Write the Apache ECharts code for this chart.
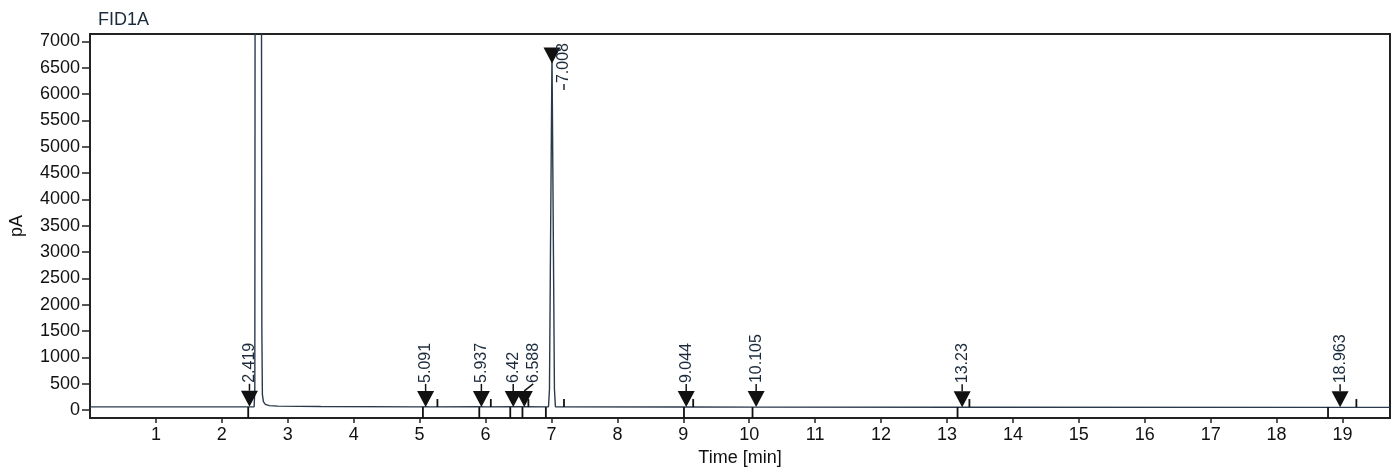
<!DOCTYPE html>
<html>
<head>
<meta charset="utf-8">
<script src="https://cdn.jsdelivr.net/npm/echarts@6/dist/echarts.min.js"></script>
<style>
html,body{margin:0;padding:0;background:#fff;}
#chart{width:1395px;height:472px;}
</style>
</head>
<body>
<div id="chart"></div>
<script>
// ---- data ----
const xTicks = [1,2,3,4,5,6,7,8,9,10,11,12,13,14,15,16,17,18,19];
const yTicks = [0,500,1000,1500,2000,2500,3000,3500,4000,4500,5000,5500,6000,6500,7000];
// chromatogram signal [time min, pA]
const signalTime = [0, 2.45, 2.49, 2.50, 2.505, 2.60, 2.607, 2.615, 2.63, 2.66, 2.72, 2.85, 3.5, 5.0, 5.09, 5.15, 5.93, 6.0, 6.42, 6.58, 6.955, 6.97, 6.985, 7.008, 7.03, 7.045, 7.06, 9.04, 10.1, 13.2, 18.96, 19.72];
const signalPA   = [62, 62, 64, 400, 9000, 9000, 1500, 300, 160, 110, 85, 75, 68, 62, 64, 62, 64, 61, 63, 63, 62, 400, 3000, 6775, 3000, 400, 62, 58, 57, 55, 52, 52];
// peak markers
const peakTime  = [2.419, 5.091, 5.937, 6.42, 6.588, 7.008, 9.044, 10.105, 13.23, 18.963];
const peakPA    = [63, 60, 60, 60, 60, 6580, 58, 57, 55, 52];
const peakLabel = ['2.419', '5.091', '5.937', '6.42', '6.588', '7.008', '9.044', '10.105', '13.23', '18.963'];
// integration events
const integStart = [2.40, 5.05, 5.905, 6.375, 6.56, 6.915, 9.01, 10.05, 13.16, 18.78];
const integEnd   = [5.27, 6.08, 6.65, 7.19, 9.15, 13.34, 19.21];
const baseLevel  = 58;

const FONT = 'Arial, "Liberation Sans", sans-serif';
const X_MIN = 0, X_MAX = 19.72, Y_MIN = -150, Y_MAX = 7140;
const GRID = {left: 87, right: 5, top: 34, bottom: 54};
const AX = 18, PK = 16;

const signalData = signalTime.map((t, i) => [t, signalPA[i]]);
const peakData = peakTime.map((t, i) => [t, peakPA[i]]);

function textLen(s, size) {
  let w = 0;
  for (const c of s) w += (c === '.' ? 0.278 : 0.556) * size;
  return w;
}

let lastLabelX = -1e9;
const chart = echarts.init(document.getElementById('chart'), null, {renderer: 'canvas'});
chart.setOption({
  animation: false,
  backgroundColor: '#fff',
  title: {
    text: 'FID1A', left: 93, top: 6,
    textStyle: {fontFamily: FONT, fontSize: AX, fontWeight: 'normal', color: '#1c2b3c'}
  },
  grid: Object.assign({show: true, borderColor: '#222', borderWidth: 2, backgroundColor: 'transparent'}, GRID),
  xAxis: {
    type: 'value', min: X_MIN, max: X_MAX,
    name: 'Time [min]', nameLocation: 'middle', nameGap: 30,
    nameTextStyle: {fontFamily: FONT, fontSize: AX, color: '#111'},
    axisLine: {show: true, onZero: false, lineStyle: {color: '#222', width: 2}},
    axisTick: {show: true, length: 5, lineStyle: {color: '#222', width: 1.5}, customValues: xTicks},
    axisLabel: {fontFamily: FONT, fontSize: AX, color: '#111', margin: 8, customValues: xTicks,
      formatter: v => String(v)},
    splitLine: {show: false}
  },
  yAxis: {
    type: 'value', min: Y_MIN, max: Y_MAX,
    name: 'pA', nameLocation: 'middle', nameGap: 64,
    nameTextStyle: {fontFamily: FONT, fontSize: AX, color: '#111'},
    axisLine: {show: true, onZero: false, lineStyle: {color: '#222', width: 2}},
    axisTick: {show: true, length: 8, lineStyle: {color: '#222', width: 1.5}, customValues: yTicks},
    axisLabel: {fontFamily: FONT, fontSize: AX, color: '#111', margin: 10, customValues: yTicks,
      formatter: v => String(v)},
    splitLine: {show: false}
  },
  series: [
    {
      type: 'line', data: signalData, showSymbol: false, clip: true,
      lineStyle: {color: '#2a3a4c', width: 1.4}, z: 3
    },
    {
      type: 'custom', z: 4, clip: false,
      data: integStart.map(t => [t, baseLevel]),
      renderItem: function (params, api) {
        const p = api.coord([api.value(0), api.value(1)]);
        const b = api.coord([api.value(0), Y_MIN]);
        return {type: 'line', shape: {x1: p[0], y1: p[1], x2: b[0], y2: b[1]},
          style: {stroke: '#111', lineWidth: 1.8}};
      }
    },
    {
      type: 'custom', z: 4, clip: false,
      data: integEnd.map(t => [t, baseLevel]),
      renderItem: function (params, api) {
        const p = api.coord([api.value(0), api.value(1)]);
        return {type: 'line', shape: {x1: p[0], y1: p[1], x2: p[0], y2: p[1] - 8},
          style: {stroke: '#111', lineWidth: 1.8}};
      }
    },
    {
      type: 'custom', z: 5, clip: false,
      data: peakData,
      renderItem: function (params, api) {
        if (params.dataIndex === 0) lastLabelX = -1e9;
        const p = api.coord([api.value(0), api.value(1)]);
        const label = peakLabel[params.dataIndex];
        const len = textLen(label, PK);
        const triH = 16, triW = 8.5;
        let start = p[1] - triH - 8;
        let tx = p[0];
        const topLimit = GRID.top + 9 + len;
        const children = [
          {type: 'polygon', shape: {points: [[p[0] - triW, p[1] - triH], [p[0] + triW, p[1] - triH], [p[0], p[1]]]},
            style: {fill: '#111'}}
        ];
        if (start < topLimit) {
          start = topLimit;
          tx = p[0] + 12;
          children.push({type: 'line', shape: {x1: tx, y1: start + 1, x2: tx, y2: start + 7}, style: {stroke: '#1c2b3c', lineWidth: 1.5}});
        } else {
          if (tx - lastLabelX < 18) tx = lastLabelX + 20;
          children.push({type: 'line', shape: {x1: p[0], y1: p[1] - triH, x2: tx, y2: p[1] - triH - 7}, style: {stroke: '#111', lineWidth: 1.5}});
        }
        lastLabelX = tx;
        children.push({
          type: 'text', x: tx, y: start, rotation: Math.PI / 2,
          style: {text: label, align: 'left', verticalAlign: 'middle', font: PK + 'px ' + FONT, fill: '#1c2b3c'}
        });
        return {type: 'group', children: children};
      }
    }
  ]
});
</script>
</body>
</html>
